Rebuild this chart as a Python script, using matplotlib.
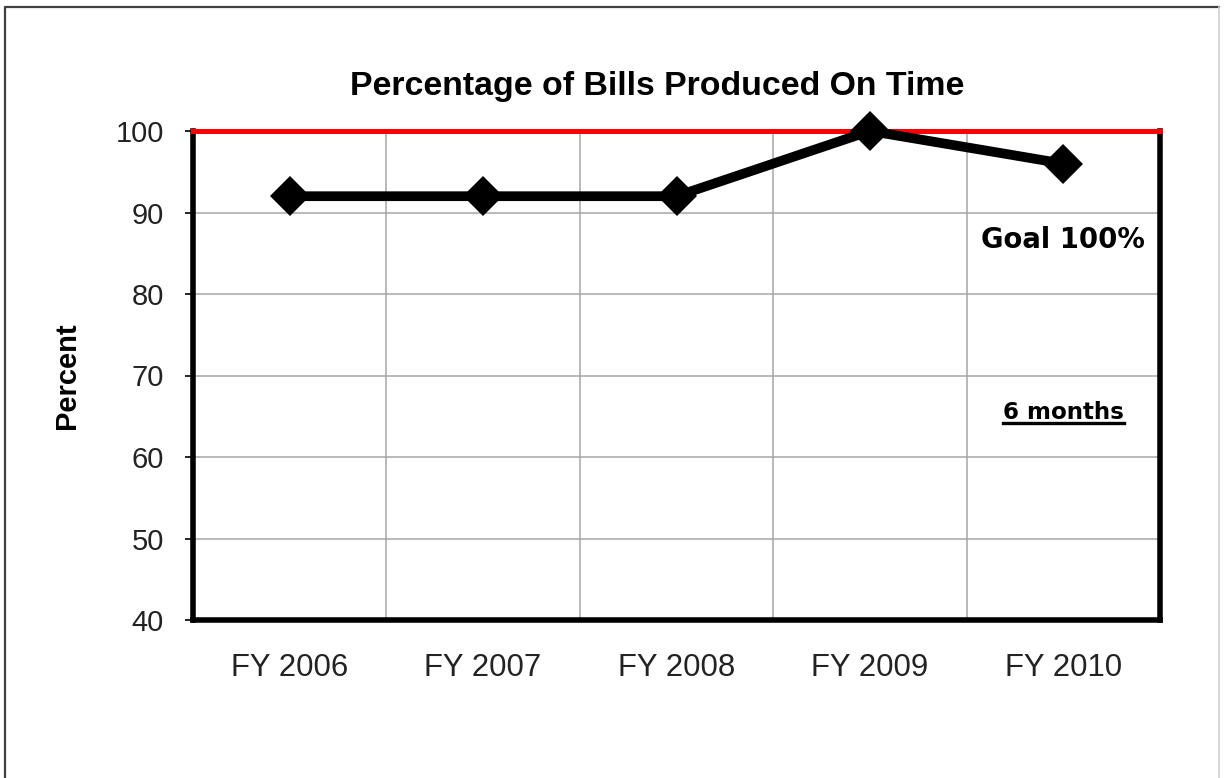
import matplotlib.pyplot as plt
from matplotlib.lines import Line2D

# data: share of bills produced on time per fiscal year
years = ["FY 2006", "FY 2007", "FY 2008", "FY 2009", "FY 2010"]
percent = [92, 92, 92, 100, 96]
goal = 100
y_ticks = [40, 50, 60, 70, 80, 90, 100]

fig = plt.figure(figsize=(12.25, 7.78), dpi=100)
ax = fig.add_axes([193 / 1225, 158 / 778, 967 / 1225, 489 / 778])

x = list(range(len(years)))

# grid: horizontal at each tick, vertical between categories
for yv in y_ticks:
    ax.axhline(yv, color="#a6a6a6", lw=1.1, zorder=1)
for xv in [i + 0.5 for i in x[:-1]]:
    ax.axvline(xv, color="#a6a6a6", lw=1.1, zorder=1)

# goal line
ax.axhline(goal, color="#ff0000", lw=3.6, zorder=3, clip_on=False)

ax.plot(x, percent, color="black", lw=7, marker="D", markersize=20,
        markeredgewidth=0, zorder=4, clip_on=False)

ax.set_xlim(-0.5, len(years) - 0.5)
ax.set_ylim(40, 100)
ax.set_yticks(y_ticks)
ax.set_xticks(x)
ax.set_xticklabels(years)

ax.tick_params(axis="y", length=6, width=1.2, pad=15, labelsize=21,
               labelcolor="#222222")
ax.tick_params(axis="x", length=0, pad=24, labelsize=22.4, labelcolor="#222222")
for lab in ax.get_xticklabels() + ax.get_yticklabels():
    lab.set_family("Liberation Sans")

for side in ["left", "bottom", "right"]:
    ax.spines[side].set_linewidth(4)
    ax.spines[side].set_color("black")
ax.spines["top"].set_linewidth(1)
ax.spines["top"].set_color("#555555")

ax.set_ylabel("Percent", fontsize=21, fontweight="bold",
              family="Liberation Sans", labelpad=0)
ax.yaxis.set_label_coords(-112 / 967, 0.5)

fig.text(657 / 1225, 1 - 87 / 778, "Percentage of Bills Produced On Time",
         ha="center", va="center", fontsize=24.4, fontweight="bold",
         family="Liberation Sans")

ax.text(4, 86.6, "Goal 100%", ha="center", va="center", fontsize=19.8,
        fontweight="bold", family="DejaVu Sans")
t = ax.text(4, 65.4, "6 months", ha="center", va="center", fontsize=16.6,
            fontweight="bold", family="DejaVu Sans")

# underline under "6 months"
fig.canvas.draw()
bb = t.get_window_extent().transformed(fig.transFigure.inverted())
fig.add_artist(Line2D([bb.x0, bb.x1], [bb.y0 + 0.002, bb.y0 + 0.002],
                      transform=fig.transFigure, color="black", lw=2.4))

# outer frame
fig.add_artist(Line2D([5 / 1225, 5 / 1225, 1219 / 1225],
                      [0, 1 - 7 / 778, 1 - 7 / 778],
                      transform=fig.transFigure, color="#404040", lw=1.6))
fig.add_artist(Line2D([1219 / 1225, 1219 / 1225], [0, 1 - 7 / 778],
                      transform=fig.transFigure, color="#d0d0d0", lw=1.2))

fig.savefig("out.png", dpi=100)
